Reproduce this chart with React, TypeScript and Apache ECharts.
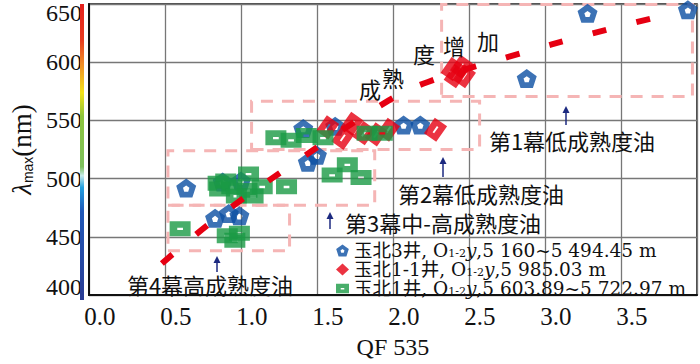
import React, { useEffect, useRef } from "react";
import * as echarts from "echarts";

// ---------- data ----------
const xTickLabels = ["0.0", "0.5", "1.0", "1.5", "2.0", "2.5", "3.0", "3.5"];
const yTickLabels = ["400", "450", "500", "550", "600", "650"];

// 玉北3井 (blue pentagons)
const yubei3X = [0.64, 0.88, 1.0, 0.83, 0.92, 0.99, 1.41, 1.62, 1.44, 1.5, 2.07, 2.18, 2.88, 3.28, 3.94];
const yubei3Y = [492, 497, 498, 466, 470, 468, 543, 545, 514, 520, 546, 546, 586, 642, 645];

// 玉北1-1井 (red diamonds)
const yubei11X = [1.57, 1.67, 1.73, 1.81, 1.89, 1.97, 2.28, 2.39, 2.45, 2.47, 2.41];
const yubei11Y = [544, 535, 547, 539, 538, 542, 542, 594, 596, 588, 588];

// 玉北1井 (green squares)
const yubei1X = [0.6, 0.85, 0.9, 0.86, 0.94, 1.04, 1.14, 1.05, 1.3, 0.91, 0.99, 0.96, 0.97, 1.08, 1.23, 1.33, 1.43, 1.54, 1.83, 1.93, 1.6, 1.7, 1.79];
const yubei1Y = [457, 496, 498, 491, 493, 490, 493, 504, 493, 451, 453, 447, 485, 485, 535, 533, 537, 535, 539, 539, 503, 512, 501];

// maturity trend (red dashed curve)
const trendX = [0.48, 0.81, 1.28, 1.97, 2.23, 2.77, 3.32, 3.87];
const trendY = [427, 463, 507, 567, 583, 605, 625, 643];

// stage boxes: [xMin, yMin, xMax, yMax]
const stageBoxes = [
  [2.32, 570.5, 3.97, 649.6],
  [1.07, 525, 2.57, 566.5],
  [0.52, 477, 1.88, 524],
  [0.52, 438, 1.32, 477],
];

const seriesNames = ["玉北3井", "玉北1-1井", "玉北1井"];
const seriesDepths = ["5 160~5 494.45 m", "5 985.03 m", "5 603.89~5 722.97 m"];

// ---------- styles ----------
const SERIF = "'Liberation Serif','Noto Sans CJK SC',serif";
const LEGEND_FONT = "'DejaVu Serif','Noto Sans CJK SC',serif";
const CJK = "'Noto Sans CJK SC','Liberation Serif',sans-serif";
const BLUE = "#0b4fa3";
const RED = "#e60012";
const GREEN = "#1a9a45";
const NAVY = "#1c2a80";

const pentPath =
  "path://M0,-1L0.951,-0.309L0.588,0.809L-0.588,0.809L-0.951,-0.309ZM0,-0.32L-0.304,-0.099L-0.188,0.259L0.188,0.259L0.304,-0.099Z";
const squarePath = "path://M0,0L22,0L22,16L0,16ZM8,7L8,9.5L14,9.5L14,7Z";
const redPath = "path://M0,0L20,0L20,16L0,16ZM6,7L6,9L14,9L14,7Z";

const zip = (xs: number[], ys: number[]) => xs.map((x, i) => [x, ys[i]]);

function arrow(x: number, yBottom: number, yTop: number) {
  return [
    { type: "line", shape: { x1: x, y1: yBottom, x2: x, y2: yTop + 4 }, style: { stroke: NAVY, lineWidth: 1.5 }, z: 20 },
    { type: "polygon", shape: { points: [[x, yTop], [x - 3.5, yTop + 7], [x + 3.5, yTop + 7]] }, style: { fill: NAVY }, z: 20 },
  ];
}

function label(text: string, x: number, y: number, size = 22) {
  return {
    type: "text",
    x,
    y,
    z: 20,
    style: { text, fontSize: size, fontFamily: CJK, fill: "#111", align: "center", verticalAlign: "middle" },
  };
}

export default function App() {
  const ref = useRef<HTMLDivElement>(null);
  useEffect(() => {
    if (!ref.current) return;
    const chart = echarts.init(ref.current, undefined, { renderer: "svg" });
    const option: any = {
      animation: false,
      grid: { left: 79, right: 3, top: 4, bottom: 64, show: true, borderColor: "#111", borderWidth: 1.5 },
      xAxis: {
        type: "value",
        min: 0,
        max: 4,
        interval: 0.5,
        name: "QF 535",
        nameLocation: "middle",
        nameGap: 40,
        nameTextStyle: { fontFamily: SERIF, fontSize: 24, color: "#111" },
        axisLine: { show: true, onZero: false, lineStyle: { color: "#111", width: 2 } },
        axisTick: { show: false },
        splitLine: { show: true, lineStyle: { color: "#777", width: 1.3 } },
        axisLabel: {
          fontFamily: SERIF,
          fontSize: 25,
          color: "#111",
          margin: 9,
          padding: [0, 0, 0, 22],
          formatter: (v: number) => xTickLabels[Math.round(v / 0.5)] ?? "",
        },
      },
      yAxis: {
        type: "value",
        min: 400,
        max: 650,
        interval: 50,
        name: "{l|λ}{m|max}{n|(nm)}",
        nameLocation: "middle",
        nameRotate: 90,
        nameGap: 50,
        nameTextStyle: {
          color: "#111",
          rich: {
            l: { fontFamily: SERIF, fontSize: 27, fontStyle: "italic", color: "#111" },
            m: { fontFamily: "'Liberation Sans',sans-serif", fontSize: 14, padding: [12, 0, 0, 0], color: "#111" },
            n: { fontFamily: SERIF, fontSize: 27, color: "#111" },
          },
        },
        axisLine: { show: true, lineStyle: { color: "#111", width: 2 } },
        axisTick: { show: false },
        splitLine: { show: true, lineStyle: { color: "#777", width: 1.3 } },
        axisLabel: {
          fontFamily: SERIF,
          fontSize: 24,
          color: "#111",
          margin: 7,
          formatter: (v: number) => {
            const t = yTickLabels[Math.round((v - 400) / 50)] ?? "";
            if (v === 650) return "{top|" + t + "}";
            if (v === 400) return "{bot|" + t + "}";
            return t;
          },
          rich: {
            top: { fontFamily: SERIF, fontSize: 24, color: "#111", padding: [18, 0, 0, 0] },
            bot: { fontFamily: SERIF, fontSize: 24, color: "#111", padding: [0, 0, 16, 0] },
          },
        },
      },
      legend: {
        orient: "vertical",
        left: 336,
        top: 241,
        padding: 0,
        itemGap: 0,
        itemWidth: 13,
        itemHeight: 12,
        data: [
          { name: seriesNames[0], icon: pentPath },
          { name: seriesNames[1], icon: "diamond" },
          { name: seriesNames[2], icon: squarePath },
        ],
        formatter: (name: string) => {
          const i = seriesNames.indexOf(name);
          return "{t|" + name + ", O}{s|1-2}{i|y}{t|," + seriesDepths[i] + "}";
        },
        textStyle: {
          color: "#111",
          lineHeight: 19,
          rich: {
            t: { fontFamily: LEGEND_FONT, fontSize: 18.5, color: "#111", lineHeight: 19 },
            s: { fontFamily: LEGEND_FONT, fontSize: 11, color: "#111", padding: [6, 0, 0, 0], lineHeight: 11 },
            i: { fontFamily: LEGEND_FONT, fontSize: 18.5, fontStyle: "italic", color: "#111", lineHeight: 19 },
          },
        },
      },
      graphic: [
        {
          type: "rect",
          shape: { x: 80, y: 4, width: 4, height: 296 },
          z: 15,
          style: {
            fill: new echarts.graphic.LinearGradient(0, 0, 0, 1, [
              { offset: 0, color: "#e4201c" },
              { offset: 0.12, color: "#e83a1f" },
              { offset: 0.2, color: "#f08a26" },
              { offset: 0.3, color: "#f2e21a" },
              { offset: 0.38, color: "#8cc43c" },
              { offset: 0.55, color: "#7cbf5c" },
              { offset: 0.58, color: "#c8ecec" },
              { offset: 0.62, color: "#22a0e0" },
              { offset: 0.7, color: "#2058b8" },
              { offset: 1, color: "#2a3c94" },
            ]),
          },
        },
        label("成", 370, 88),
        label("熟", 393, 77),
        label("度", 424, 53),
        label("增", 454, 45),
        label("加", 488, 40),
        label("第1幕低成熟度油", 572, 140),
        label("第2幕低成熟度油", 481, 193),
        label("第3幕中-高成熟度油", 443, 222),
        label("第4幕高成熟度油", 210, 284),
        ...arrow(566, 125, 106),
        ...arrow(443, 177, 157),
        ...arrow(330, 229, 212),
        ...arrow(217, 272, 256),
      ],
      series: [
        {
          type: "scatter",
          name: seriesNames[0],
          data: zip(yubei3X, yubei3Y),
          symbol: pentPath,
          symbolSize: [20, 19],
          itemStyle: { color: BLUE },
          z: 3,
          markArea: {
            silent: true,
            label: { show: false },
            itemStyle: { color: "rgba(0,0,0,0)", borderColor: "#f5b5b5", borderWidth: 3, borderType: [12, 9] },
            data: stageBoxes.map((b) => [
              { xAxis: b[0], yAxis: b[1] },
              { xAxis: b[2], yAxis: b[3] },
            ]),
          },
        },
        {
          type: "scatter",
          name: seriesNames[1],
          data: zip(yubei11X, yubei11Y),
          symbol: redPath,
          symbolSize: [19, 15],
          symbolRotate: 55,
          itemStyle: { color: RED },
          z: 4,
        },
        {
          type: "scatter",
          name: seriesNames[2],
          data: zip(yubei1X, yubei1Y),
          symbol: squarePath,
          symbolSize: [21, 15],
          itemStyle: { color: GREEN },
          z: 5,
        },
        {
          type: "line",
          name: "trend",
          data: zip(trendX, trendY),
          smooth: 0.4,
          symbol: "none",
          silent: true,
          lineStyle: { color: RED, width: 6, type: [14, 31] },
          z: 6,
        },
      ],
    };
    chart.setOption(option);
    return () => chart.dispose();
  }, []);
  return <div ref={ref} style={{ position: "fixed", left: 0, top: 0, width: 700, height: 364, background: "#fff" }} />;
}
